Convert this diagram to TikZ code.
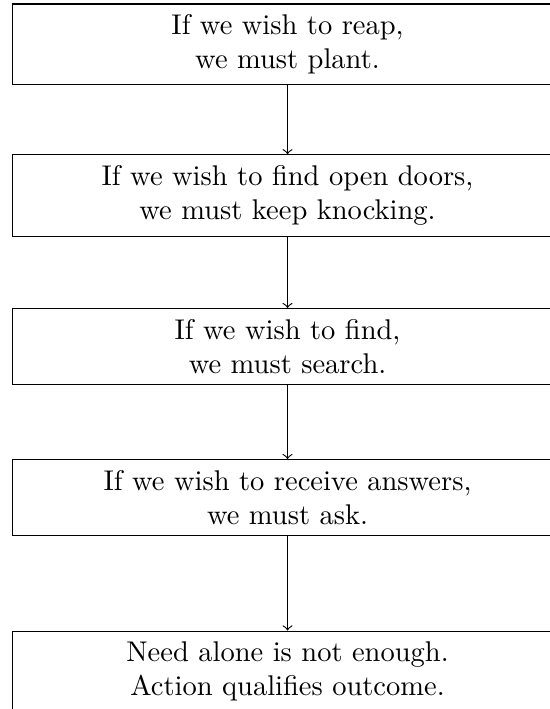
\documentclass[tikz,border=0pt]{standalone}
\usepackage{tikz}
\usetikzlibrary{positioning}

\begin{document}
\begin{tikzpicture}[auto, on grid, thin, stage/.style={rectangle, draw, align=center, minimum width=193pt, inner sep=3.7pt}]
    \clip (0,0) rectangle (193pt,-248.8pt);
    \node[stage] (1) at (100.9pt,-15.6pt) {If we wish to reap,\\ we must plant.};
    \node[stage, below=53pt of 1] (2) {If we wish to find open doors,\\ we must keep knocking.};
    \node[stage, below=53pt of 2] (3) {If we wish to find,\\ we must search.};
    \node[stage, below=53pt of 3] (4) {If we wish to receive answers,\\ we must ask.};
    \node[stage, below=61pt of 4] (5) {Need alone is not enough.\\ Action qualifies outcome.};

    \draw (1) edge[->] (2);
    \draw (2) edge[->] (3);
    \draw (3) edge[->] (4);
    \draw (4) edge[->] (5);
  \end{tikzpicture}
\end{document}
